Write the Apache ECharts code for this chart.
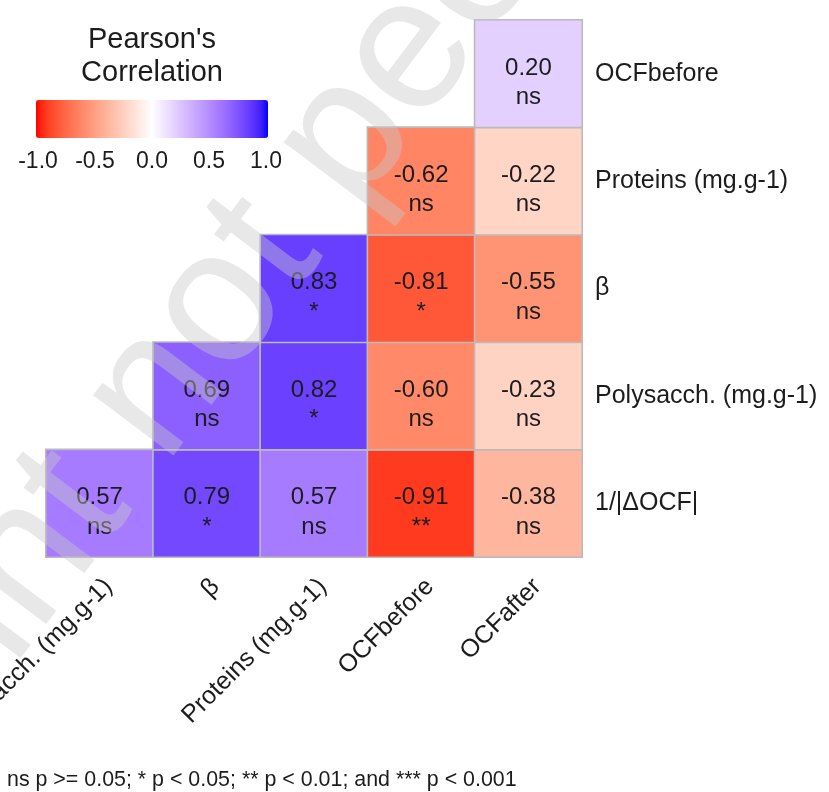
<!DOCTYPE html>
<html>
<head>
<meta charset="utf-8">
<script src="https://cdn.jsdelivr.net/npm/echarts@6/dist/echarts.min.js"></script>
<style>
  html, body { margin: 0; padding: 0; background: #ffffff; }
  #chart { width: 829px; height: 792px; }
</style>
</head>
<body>
<div id="chart"></div>
<script>
// Variables along the bottom (columns) and the right side (rows, bottom to top)
const xLabels = ['Polysacch. (mg.g-1)', 'β', 'Proteins (mg.g-1)', 'OCFbefore', 'OCFafter'];
const yLabels = ['1/|ΔOCF|', 'Polysacch. (mg.g-1)', 'β', 'Proteins (mg.g-1)', 'OCFbefore'];

// Pearson correlations, one array per row (same order as yLabels); null = cell not shown
const rowDeltaOCF   = [0.57, 0.79, 0.57, -0.91, -0.38];
const rowPolysacch  = [null, 0.69, 0.82, -0.60, -0.23];
const rowBeta       = [null, null, 0.83, -0.81, -0.55];
const rowProteins   = [null, null, null, -0.62, -0.22];
const rowOCFbefore  = [null, null, null, null, 0.20];

// Significance codes for the same cells
const sigDeltaOCF   = ['ns', '*', 'ns', '**', 'ns'];
const sigPolysacch  = [null, 'ns', '*', 'ns', 'ns'];
const sigBeta       = [null, null, '*', '*', 'ns'];
const sigProteins   = [null, null, null, 'ns', 'ns'];
const sigOCFbefore  = [null, null, null, null, 'ns'];

// Colour bar ticks
const legendTicks = [-1.0, -0.5, 0.0, 0.5, 1.0];

const legendTitle = "Pearson's\nCorrelation";
const footnote = 'ns p >= 0.05; * p < 0.05; ** p < 0.01; and *** p < 0.001';
const watermark = 'Preprint not peer reviewed';

const rows = [rowDeltaOCF, rowPolysacch, rowBeta, rowProteins, rowOCFbefore];
const sigs = [sigDeltaOCF, sigPolysacch, sigBeta, sigProteins, sigOCFbefore];

const cells = [];
rows.forEach(function (row, yi) {
  row.forEach(function (v, xi) {
    if (v !== null) cells.push([xi, yi, v, sigs[yi][xi]]);
  });
});

// Diverging red-white-blue ramp interpolated in CIE Lab
function toLin(c) { c /= 255; return c <= 0.04045 ? c / 12.92 : Math.pow((c + 0.055) / 1.055, 2.4); }
function fromLin(c) { c = c <= 0.0031308 ? 12.92 * c : 1.055 * Math.pow(c, 1 / 2.4) - 0.055; return Math.max(0, Math.min(255, Math.round(c * 255))); }
function rgb2lab(rgb) {
  const r = toLin(rgb[0]), g = toLin(rgb[1]), b = toLin(rgb[2]);
  const X = (0.4124 * r + 0.3576 * g + 0.1805 * b) / 0.95047;
  const Y = (0.2126 * r + 0.7152 * g + 0.0722 * b);
  const Z = (0.0193 * r + 0.1192 * g + 0.9505 * b) / 1.08883;
  const f = t => t > 0.008856 ? Math.cbrt(t) : 7.787 * t + 16 / 116;
  const fx = f(X), fy = f(Y), fz = f(Z);
  return [116 * fy - 16, 500 * (fx - fy), 200 * (fy - fz)];
}
function lab2hex(lab) {
  const fy = (lab[0] + 16) / 116, fx = fy + lab[1] / 500, fz = fy - lab[2] / 200;
  const fi = t => (t * t * t > 0.008856 ? t * t * t : (t - 16 / 116) / 7.787);
  const X = fi(fx) * 0.95047, Y = fi(fy), Z = fi(fz) * 1.08883;
  const r = fromLin(3.2406 * X - 1.5372 * Y - 0.4986 * Z);
  const g = fromLin(-0.9689 * X + 1.8758 * Y + 0.0415 * Z);
  const b = fromLin(0.0557 * X - 0.2040 * Y + 1.0570 * Z);
  return '#' + [r, g, b].map(c => c.toString(16).padStart(2, '0')).join('');
}
const LOW = rgb2lab([255, 0, 0]), MID = rgb2lab([255, 255, 255]), HIGH = rgb2lab([0, 0, 255]);
const ramp = [];
for (let i = 0; i <= 40; i++) {
  const t = -1 + i / 20;
  const a = t < 0 ? LOW : HIGH, k = Math.abs(t);
  ramp.push(lab2hex([MID[0] + (a[0] - MID[0]) * k, MID[1] + (a[1] - MID[1]) * k, MID[2] + (a[2] - MID[2]) * k]));
}

const FONT = "'Liberation Sans', Arial, sans-serif";
const INK = '#1c1c1c';

const chart = echarts.init(document.getElementById('chart'), null, { renderer: 'canvas' });
chart.setOption({
  animation: false,
  backgroundColor: '#ffffff',
  textStyle: { fontFamily: FONT },
  grid: [
    { left: 46, right: 247, top: 20, bottom: 235, outerBoundsMode: 'none', containLabel: false },
    { left: 38, top: 100, width: 228, height: 38, outerBoundsMode: 'none', containLabel: false }
  ],
  xAxis: [
    {
      type: 'category', data: xLabels, gridIndex: 0, position: 'bottom',
      axisLine: { show: false }, axisTick: { show: false }, splitLine: { show: false },
      axisLabel: {
        rotate: 45, interval: 0, margin: 17, align: 'right', verticalAlign: 'top',
        fontSize: 25, color: INK, fontFamily: FONT, hideOverlap: false
      }
    },
    {
      type: 'value', gridIndex: 1, min: -1, max: 1, interval: 0.5, position: 'bottom',
      axisLine: { show: false }, splitLine: { show: false },
      axisTick: { show: true, inside: true, length: 6, lineStyle: { color: '#ffffff', width: 1.5 } },
      axisLabel: {
        margin: 12, fontSize: 23, color: INK, fontFamily: FONT,
        formatter: function (v) {
          const t = legendTicks.find(x => Math.abs(x - v) < 1e-9);
          return t === undefined ? '' : t.toFixed(1);
        }
      }
    },
    {
      type: 'value', gridIndex: 1, min: -1, max: 1, interval: 0.5, position: 'top',
      axisLine: { show: false }, splitLine: { show: false }, axisLabel: { show: false },
      axisTick: { show: true, inside: true, length: 6, lineStyle: { color: '#ffffff', width: 1.5 } }
    }
  ],
  yAxis: [
    {
      type: 'category', data: yLabels, gridIndex: 0, position: 'right',
      axisLine: { show: false }, axisTick: { show: false }, splitLine: { show: false },
      axisLabel: { margin: 13, fontSize: 25, color: INK, fontFamily: FONT }
    },
    { type: 'value', gridIndex: 1, show: false, min: 0, max: 1 }
  ],
  visualMap: {
    type: 'continuous', min: -1, max: 1, orient: 'horizontal',
    left: 36, top: 100, itemWidth: 38, itemHeight: 232, padding: 0,
    calculable: false, seriesIndex: 0, dimension: 2, hoverLink: false,
    inRange: { color: ramp }, z: 1
  },
  series: [{
    type: 'heatmap', xAxisIndex: 0, yAxisIndex: 0, data: cells,
    itemStyle: { borderColor: '#bababa', borderWidth: 1.6 },
    emphasis: { disabled: true },
    label: {
      show: true, color: INK, fontSize: 24, lineHeight: 29.5, fontFamily: FONT, offset: [0, 9],
      formatter: function (p) { return p.data[2].toFixed(2) + '\n' + p.data[3]; }
    }
  }],
  graphic: [
    {
      type: 'text', x: 152, y: 56, z: 10,
      style: { text: legendTitle, font: '29px ' + FONT, fill: INK, textAlign: 'center', textVerticalAlign: 'middle', lineHeight: 33 }
    },
    {
      type: 'text', x: 7, y: 780, z: 10,
      style: { text: footnote, font: '21.4px ' + FONT, fill: INK, textAlign: 'left', textVerticalAlign: 'middle' }
    },
    {
      type: 'text', x: 362, y: 118, z: 100, silent: true,
      rotation: 53 * Math.PI / 180,
      style: { text: watermark, font: '190px ' + FONT, fill: 'rgba(200,200,200,0.42)', textAlign: 'center', textVerticalAlign: 'middle' }
    }
  ]
});
</script>
</body>
</html>
